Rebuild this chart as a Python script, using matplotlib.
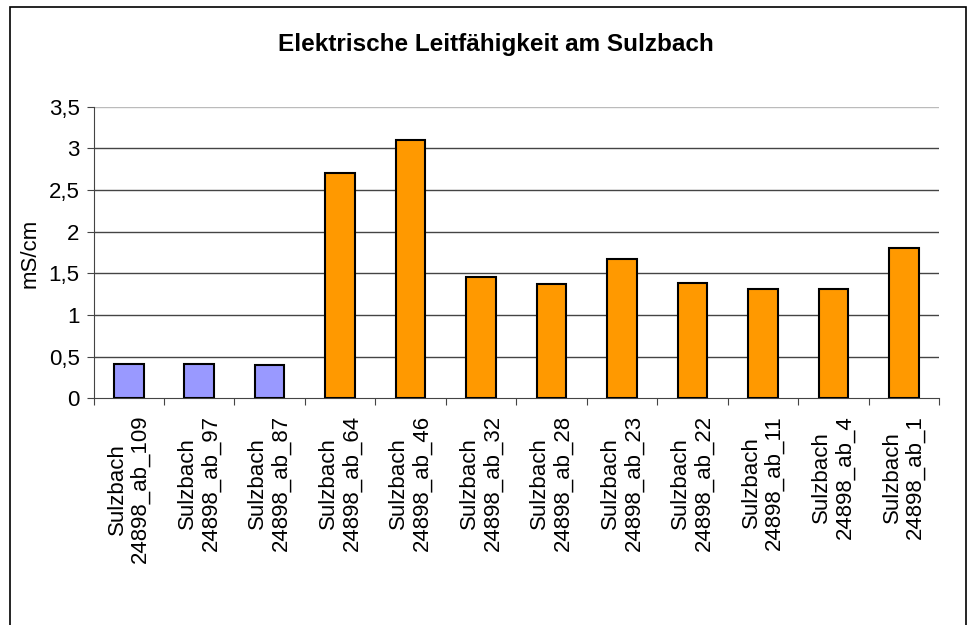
import matplotlib
matplotlib.use("Agg")
import matplotlib.pyplot as plt
from matplotlib.patches import Rectangle

plt.rcParams['font.family'] = ['Liberation Sans', 'DejaVu Sans']

categories = ["Sulzbach\n24898_ab_109", "Sulzbach\n24898_ab_97", "Sulzbach\n24898_ab_87",
              "Sulzbach\n24898_ab_64", "Sulzbach\n24898_ab_46", "Sulzbach\n24898_ab_32",
              "Sulzbach\n24898_ab_28", "Sulzbach\n24898_ab_23", "Sulzbach\n24898_ab_22",
              "Sulzbach\n24898_ab_11", "Sulzbach\n24898_ab_4", "Sulzbach\n24898_ab_1"]
values = [0.41, 0.41, 0.40, 2.71, 3.10, 1.45, 1.37, 1.67, 1.38, 1.31, 1.31, 1.80]
colors = ["#9999FF"] * 3 + ["#FF9900"] * 9
yticks = [0, 0.5, 1, 1.5, 2, 2.5, 3, 3.5]
ytick_labels = ["0", "0,5", "1", "1,5", "2", "2,5", "3", "3,5"]

W, H = 971, 625
fig = plt.figure(figsize=(W / 100, H / 100), dpi=100)
fig.patches.append(Rectangle((10 / W, -0.1), (966 - 10) / W, (H - 7) / H + 0.1,
                             transform=fig.transFigure, fill=False,
                             edgecolor="black", linewidth=1.2))

ax = fig.add_axes([93.5 / W, 1 - 398.3 / H, (939 - 93.5) / W, (398.3 - 106.7) / H])
x = list(range(len(values)))
ax.bar(x, values, width=0.42, color=colors, edgecolor="black", linewidth=1.5, zorder=3)
ax.set_xlim(-0.5, len(values) - 0.5)
ax.set_ylim(0, 3.5)
ax.set_yticks(yticks)
ax.set_yticklabels(ytick_labels, fontsize=16)
for t in yticks[1:]:
    ax.axhline(t, color="#444444" if t < 3.5 else "#BBBBBB", linewidth=1.0, zorder=1)

ax.set_xticks([i - 0.5 for i in range(len(values) + 1)])
ax.set_xticklabels([])
ax.tick_params(axis="x", direction="out", length=5, color="#444444")
ax.tick_params(axis="y", direction="out", length=5, color="#444444", pad=5)
for i, lab in enumerate(categories):
    ax.text(i, -0.2, lab, rotation=90, ha="center", va="top", multialignment="center",
            fontsize=16, linespacing=1.15, transform=ax.transData)

for s in ["top", "right"]:
    ax.spines[s].set_visible(False)
ax.spines["left"].set_color("#444444")
ax.spines["bottom"].set_color("#444444")

fig.text(30 / W, 1 - 253 / H, "mS/cm", rotation=90, ha="center", va="center", fontsize=16)
fig.text(496 / W, 1 - 45 / H, "Elektrische Leitfähigkeit am Sulzbach", ha="center",
         va="center", fontsize=17.5, fontweight="bold")

fig.savefig("out.png", dpi=100)
